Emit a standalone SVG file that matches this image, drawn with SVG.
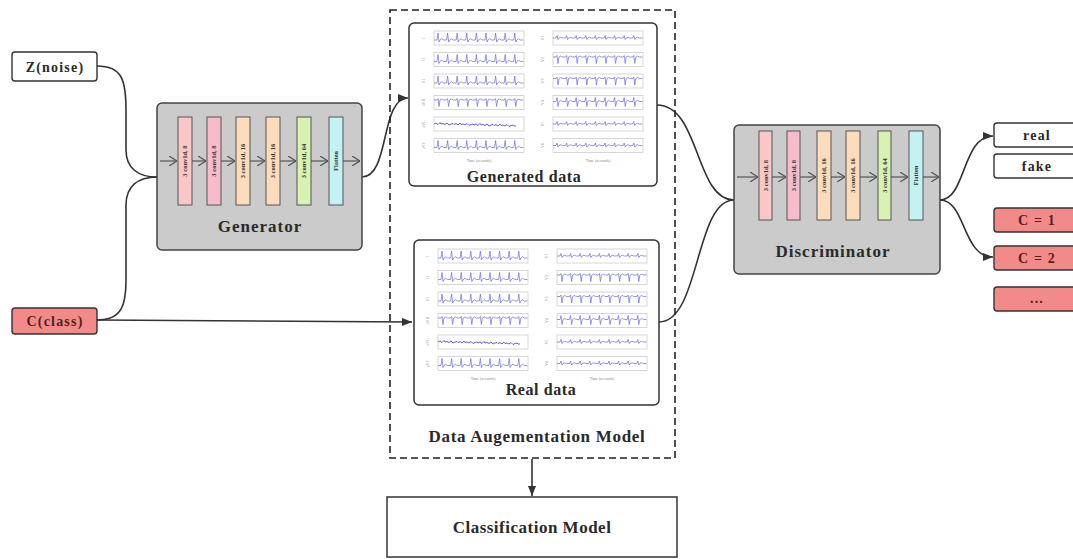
<svg xmlns="http://www.w3.org/2000/svg" xmlns:xlink="http://www.w3.org/1999/xlink" width="1073" height="559" viewBox="0 0 1073 559">
<style>
text{font-family:"Liberation Serif","Times New Roman",serif;font-weight:bold;text-anchor:middle;fill:#2a2a2a}
.node{fill:#fff;stroke:#333;stroke-width:1.4}
.red{fill:#f28a8a;stroke:#333;stroke-width:1.4}
.redt{fill:#5a1e1e}
.gray{fill:#cbcbcb;stroke:#444;stroke-width:1.5}
.panel{fill:#fff;stroke:#333;stroke-width:1.5}
.layer{stroke:#555;stroke-width:1}
.l1{fill:#f9c8c6}.l2{fill:#f6bccb}.l3{fill:#fcdcbc}.l5{fill:#d8f2b2}.l6{fill:#c4f2f2}
.lt{font-size:6.5px;fill:#333}
.conn{fill:none;stroke:#333;stroke-width:1.6}
.inner{fill:none;stroke:#555;stroke-width:1.2}
.frame{fill:none;stroke:#bbb;stroke-width:0.6}
.tr{fill:none;stroke:#6b6bd8;stroke-width:0.7}
.trd{fill:none;stroke:#3a3ac0;stroke-width:0.8}
.tiny{font-size:4px;font-weight:normal;fill:#888}
.lbl{font-size:14px;letter-spacing:1.2px}
.big{font-size:17px;letter-spacing:1px}
.title{font-size:16px;letter-spacing:0.6px}
</style>
<defs>
<marker id="arr" viewBox="0 0 10 8" refX="10" refY="4" markerWidth="10" markerHeight="8" markerUnits="userSpaceOnUse" orient="auto">
<path d="M0,0 L10,4 L0,8 z" fill="#333"/>
</marker>
<marker id="chev" viewBox="0 0 8 10" refX="8" refY="5" markerWidth="8" markerHeight="10" markerUnits="userSpaceOnUse" orient="auto">
<path d="M0,0 L8,5 L0,10" fill="none" stroke="#555" stroke-width="1.2"/>
</marker>
<path id="tUp" d="M0,0 h3 l1,-7 l1,9 l1,-2 q1.8,-2.5 3.6,0 h3 l1,-7 l1,9 l1,-2 q1.8,-2.5 3.6,0 h3 l1,-7 l1,9 l1,-2 q1.8,-2.5 3.6,0 h3 l1,-7 l1,9 l1,-2 q1.8,-2.5 3.6,0 h3 l1,-7 l1,9 l1,-2 q1.8,-2.5 3.6,0 h3 l1,-7 l1,9 l1,-2 q1.8,-2.5 3.6,0 h3 l1,-7 l1,9 l1,-2 q1.8,-2.5 3.6,0 h3 l1,-7 l1,9 l1,-2 q1.8,-2.5 3.6,0 h3 l1,-7 l1,9 l1,-2 q1.8,-2.5 3.6,0 h3"/>
<path id="tDown" d="M0,-2 h3 l1,-1.5 l1,8 l1,-6.5 q1.8,-2 3.6,0 h3 l1,-1.5 l1,8 l1,-6.5 q1.8,-2 3.6,0 h3 l1,-1.5 l1,8 l1,-6.5 q1.8,-2 3.6,0 h3 l1,-1.5 l1,8 l1,-6.5 q1.8,-2 3.6,0 h3 l1,-1.5 l1,8 l1,-6.5 q1.8,-2 3.6,0 h3 l1,-1.5 l1,8 l1,-6.5 q1.8,-2 3.6,0 h3 l1,-1.5 l1,8 l1,-6.5 q1.8,-2 3.6,0 h3 l1,-1.5 l1,8 l1,-6.5 q1.8,-2 3.6,0 h3 l1,-1.5 l1,8 l1,-6.5 q1.8,-2 3.6,0 h3"/>
<path id="tSmall" d="M0,0 h3 l1,-2.5 l1,4 l1,-1.5 q1.8,-1.5 3.6,0 h3 l1,-2.5 l1,4 l1,-1.5 q1.8,-1.5 3.6,0 h3 l1,-2.5 l1,4 l1,-1.5 q1.8,-1.5 3.6,0 h3 l1,-2.5 l1,4 l1,-1.5 q1.8,-1.5 3.6,0 h3 l1,-2.5 l1,4 l1,-1.5 q1.8,-1.5 3.6,0 h3 l1,-2.5 l1,4 l1,-1.5 q1.8,-1.5 3.6,0 h3 l1,-2.5 l1,4 l1,-1.5 q1.8,-1.5 3.6,0 h3 l1,-2.5 l1,4 l1,-1.5 q1.8,-1.5 3.6,0 h3 l1,-2.5 l1,4 l1,-1.5 q1.8,-1.5 3.6,0 h3"/>
<path id="tBi" d="M0,-1 h3 l1,-4 l1,9 l1,-5 q1.8,-2 3.6,0 h3 l1,-4 l1,9 l1,-5 q1.8,-2 3.6,0 h3 l1,-4 l1,9 l1,-5 q1.8,-2 3.6,0 h3 l1,-4 l1,9 l1,-5 q1.8,-2 3.6,0 h3 l1,-4 l1,9 l1,-5 q1.8,-2 3.6,0 h3 l1,-4 l1,9 l1,-5 q1.8,-2 3.6,0 h3 l1,-4 l1,9 l1,-5 q1.8,-2 3.6,0 h3 l1,-4 l1,9 l1,-5 q1.8,-2 3.6,0 h3 l1,-4 l1,9 l1,-5 q1.8,-2 3.6,0 h3"/>
<path id="tNoise" d="M0,0 l2,-1 l2,1.5 l2,-2 l1,1.5 l2,-0.5 l2,1 l2,-1.5 l2,2 l2,-1 l2,-0.5 l1,1 l2,-1 l2,1.5 l2,-2 l1,1.5 l2,-0.5 l2,1 l2,-1.5 l2,2 l2,-1 l2,-0.5 l1,1 l2,-1 l2,1.5 l2,-2 l1,1.5 l2,-0.5 l2,1 l2,-1.5 l2,2 l2,-1 l2,-0.5 l1,1 l2,-1 l2,1.5 l2,-2 l1,1.5 l2,-0.5 l2,1 l2,-1.5 l2,2 l2,-1 l2,-0.5 l1,1 l2,0"/>
<g id="ecgPanel">
<rect class="frame" x="25" y="8" width="90" height="14"/>
<rect class="frame" x="25" y="29.5" width="90" height="14"/>
<rect class="frame" x="25" y="51" width="90" height="14"/>
<rect class="frame" x="25" y="72.5" width="90" height="14"/>
<rect class="frame" x="25" y="94" width="90" height="14"/>
<rect class="frame" x="25" y="115.5" width="90" height="14"/>
<rect class="frame" x="144" y="8" width="90" height="14"/>
<rect class="frame" x="144" y="29.5" width="90" height="14"/>
<rect class="frame" x="144" y="51" width="90" height="14"/>
<rect class="frame" x="144" y="72.5" width="90" height="14"/>
<rect class="frame" x="144" y="94" width="90" height="14"/>
<rect class="frame" x="144" y="115.5" width="90" height="14"/>
<use href="#tUp" class="tr" x="25" y="17"/>
<use href="#tUp" class="tr" x="25" y="38.5"/>
<use href="#tUp" class="tr" x="25" y="60"/>
<use href="#tDown" class="tr" x="25" y="79"/>
<use href="#tNoise" class="trd" x="25" y="101"/>
<use href="#tUp" class="tr" x="25" y="124.5"/>
<use href="#tSmall" class="tr" x="144" y="15"/>
<use href="#tDown" class="tr" x="144" y="36"/>
<use href="#tDown" class="tr" x="144" y="57.5"/>
<use href="#tBi" class="tr" x="144" y="79.5"/>
<use href="#tSmall" class="tr" x="144" y="101"/>
<use href="#tSmall" class="tr" x="144" y="122.5"/>
<text class="tiny" transform="translate(16,15) rotate(-90)">I</text>
<text class="tiny" transform="translate(16,36.5) rotate(-90)">II</text>
<text class="tiny" transform="translate(16,58) rotate(-90)">III</text>
<text class="tiny" transform="translate(16,79.5) rotate(-90)">aVR</text>
<text class="tiny" transform="translate(16,101) rotate(-90)">aVL</text>
<text class="tiny" transform="translate(16,122.5) rotate(-90)">aVF</text>
<text class="tiny" transform="translate(135,15) rotate(-90)">V1</text>
<text class="tiny" transform="translate(135,36.5) rotate(-90)">V2</text>
<text class="tiny" transform="translate(135,58) rotate(-90)">V3</text>
<text class="tiny" transform="translate(135,79.5) rotate(-90)">V4</text>
<text class="tiny" transform="translate(135,101) rotate(-90)">V5</text>
<text class="tiny" transform="translate(135,122.5) rotate(-90)">V6</text>
<text class="tiny" x="70" y="139">Time (seconds)</text>
<text class="tiny" x="189" y="139">Time (seconds)</text>
</g>
</defs>

<rect width="1073" height="559" fill="#fff"/>

<g id="connectors">
<path class="conn" d="M97,66 C122,66 126,80 126,110 L126,150 C126,168 138,177 157,177"/>
<path class="conn" d="M97,320 C122,320 126,305 126,280 L126,205 C126,186 138,177 157,177"/>
<path class="conn" d="M97,320 L412,322" marker-end="url(#arr)"/>
<path class="conn" d="M362,177 C390,177 380,98 408,98" marker-end="url(#arr)"/>
<path class="conn" d="M657,105 C700,105 695,200 734,200"/>
<path class="conn" d="M659,322 C700,322 695,200 734,200"/>
<path class="conn" d="M940,200 C966,200 962,136 993,136" marker-end="url(#arr)"/>
<path class="conn" d="M940,200 C966,200 962,257 993,257" marker-end="url(#arr)"/>
<path class="conn" d="M532,459 L532,496" marker-end="url(#arr)"/>
</g>

<g id="z-noise">
<rect class="node" x="12" y="52" width="85" height="29" rx="3"/>
<text class="lbl" x="55" y="71.5">Z(noise)</text>
</g>
<g id="c-class">
<rect class="red" x="12" y="308" width="85" height="26" rx="3"/>
<text class="lbl redt" x="55" y="326">C(class)</text>
</g>

<g id="generator">
<rect class="gray" x="157" y="103" width="205" height="147" rx="5"/>
<g class="inner">
<path d="M160,161 H177" marker-end="url(#chev)"/>
<path d="M192,161 H206" marker-end="url(#chev)"/>
<path d="M221,161 H235" marker-end="url(#chev)"/>
<path d="M250,161 H265" marker-end="url(#chev)"/>
<path d="M280,161 H296" marker-end="url(#chev)"/>
<path d="M311,161 H328" marker-end="url(#chev)"/>
<path d="M343,161 H360" marker-end="url(#chev)"/>
</g>
<rect class="layer l1" x="178" y="117" width="14" height="88"/>
<rect class="layer l2" x="207" y="117" width="14" height="88"/>
<rect class="layer l3" x="236" y="117" width="14" height="88"/>
<rect class="layer l3" x="266" y="117" width="14" height="88"/>
<rect class="layer l5" x="297" y="117" width="14" height="88"/>
<rect class="layer l6" x="329" y="117" width="14" height="88"/>
<text class="lt" transform="translate(187.3,161) rotate(-90)">3 conv1d, 8</text>
<text class="lt" transform="translate(216.3,161) rotate(-90)">3 conv1d, 8</text>
<text class="lt" transform="translate(245.3,161) rotate(-90)">3 conv1d, 16</text>
<text class="lt" transform="translate(275.3,161) rotate(-90)">3 conv1d, 16</text>
<text class="lt" transform="translate(306.3,161) rotate(-90)">3 conv1d, 64</text>
<text class="lt" transform="translate(338.3,161) rotate(-90)">Flatten</text>
<text class="big" x="260" y="232">Generator</text>
</g>

<g id="data-augmentation">
<rect x="390" y="10" width="285" height="448" fill="none" stroke="#222" stroke-width="1.6" stroke-dasharray="7,4"/>
<text class="big" x="537" y="442" style="letter-spacing:0.7px">Data Augementation Model</text>
</g>

<g id="generated-data">
<rect class="panel" x="409" y="23" width="248" height="163" rx="5"/>
<use href="#ecgPanel" x="409" y="23"/>
<text class="title" x="524" y="182">Generated data</text>
</g>

<g id="real-data">
<rect class="panel" x="414" y="240" width="245" height="165" rx="5"/>
<use href="#ecgPanel" x="413" y="241"/>
<text class="title" x="541" y="395">Real data</text>
</g>

<g id="discriminator">
<rect class="gray" x="734" y="125" width="206" height="149" rx="5"/>
<g class="inner">
<path d="M737,177 H758" marker-end="url(#chev)"/>
<path d="M772,177 H786" marker-end="url(#chev)"/>
<path d="M800,177 H816" marker-end="url(#chev)"/>
<path d="M831,177 H845" marker-end="url(#chev)"/>
<path d="M860,177 H877" marker-end="url(#chev)"/>
<path d="M891,177 H908" marker-end="url(#chev)"/>
<path d="M923,177 H939" marker-end="url(#chev)"/>
</g>
<rect class="layer l1" x="759" y="131" width="13" height="89"/>
<rect class="layer l2" x="787" y="131" width="13" height="89"/>
<rect class="layer l3" x="817" y="131" width="14" height="89"/>
<rect class="layer l3" x="846" y="131" width="14" height="89"/>
<rect class="layer l5" x="878" y="131" width="13" height="89"/>
<rect class="layer l6" x="909" y="131" width="14" height="89"/>
<text class="lt" transform="translate(767.8,175.5) rotate(-90)">3 conv1d, 8</text>
<text class="lt" transform="translate(795.8,175.5) rotate(-90)">3 conv1d, 8</text>
<text class="lt" transform="translate(826.3,175.5) rotate(-90)">3 conv1d, 16</text>
<text class="lt" transform="translate(855.3,175.5) rotate(-90)">3 conv1d, 16</text>
<text class="lt" transform="translate(886.8,175.5) rotate(-90)">3 conv1d, 64</text>
<text class="lt" transform="translate(918.3,175.5) rotate(-90)">Flatten</text>
<text class="big" x="833" y="257">Discriminator</text>
</g>

<g id="out-real">
<rect class="node" x="994" y="123" width="90" height="24" rx="3"/>
<text class="lbl" x="1037" y="140">real</text>
</g>
<g id="out-fake">
<rect class="node" x="994" y="154" width="90" height="24" rx="3"/>
<text class="lbl" x="1037" y="171">fake</text>
</g>
<g id="out-c1">
<rect class="red" x="994" y="208" width="90" height="24" rx="3"/>
<text class="lbl redt" x="1037" y="225">C = 1</text>
</g>
<g id="out-c2">
<rect class="red" x="994" y="246" width="90" height="24" rx="3"/>
<text class="lbl redt" x="1037" y="263">C = 2</text>
</g>
<g id="out-more">
<rect class="red" x="994" y="287" width="90" height="24" rx="3"/>
<text class="lbl redt" x="1037" y="303">...</text>
</g>

<g id="classification-model">
<rect x="387" y="497" width="290" height="60" fill="#fff" stroke="#333" stroke-width="1.5"/>
<text class="big" x="532" y="533" style="letter-spacing:0.5px">Classification Model</text>
</g>
</svg>
